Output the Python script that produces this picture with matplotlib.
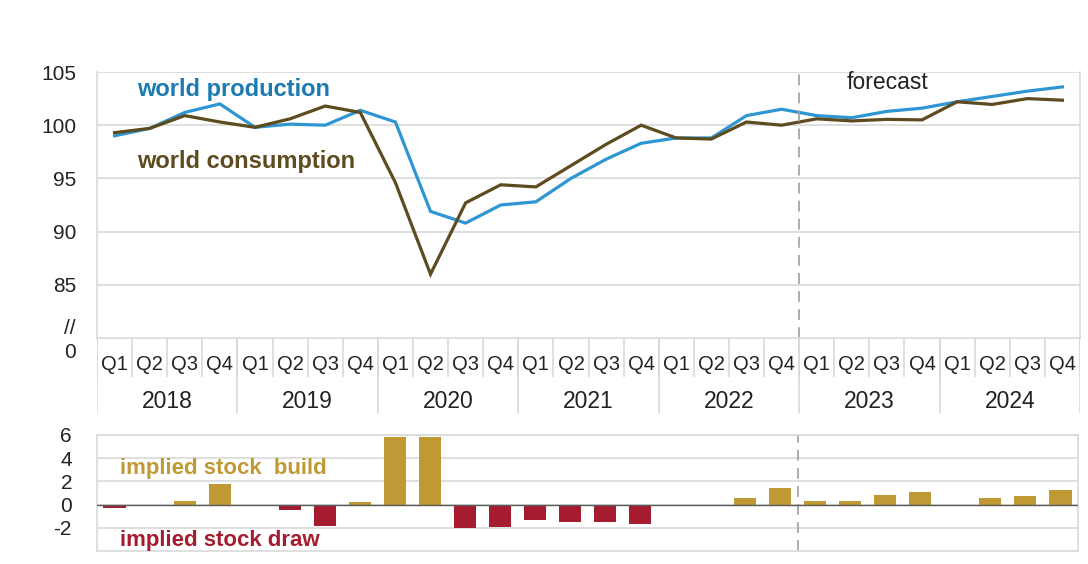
import numpy as np
import matplotlib.pyplot as plt

plt.rcParams['font.family'] = ['Liberation Sans', 'DejaVu Sans']

# data
years = ['2018', '2019', '2020', '2021', '2022', '2023', '2024']
quarters = ['Q1', 'Q2', 'Q3', 'Q4']
production = [99.0, 99.7, 101.2, 102.0, 99.8, 100.1, 100.0, 101.4,
              100.3, 91.9, 90.8, 92.5, 92.8, 95.0, 96.8, 98.3,
              98.8, 98.8, 100.9, 101.5, 100.9, 100.7, 101.3, 101.6,
              102.2, 102.7, 103.2, 103.6]
consumption = [99.3, 99.7, 100.9, 100.3, 99.8, 100.6, 101.8, 101.2,
               94.6, 86.0, 92.7, 94.4, 94.2, 96.2, 98.2, 100.0,
               98.8, 98.7, 100.3, 100.0, 100.6, 100.4, 100.55, 100.5,
               102.2, 101.95, 102.5, 102.35]
stock_change = [-0.25, -0.05, 0.3, 1.75, 0.0, -0.5, -1.85, 0.25,
                5.8, 5.85, -2.0, -1.9, -1.35, -1.5, -1.5, -1.7,
                0.0, 0.0, 0.6, 1.45, 0.3, 0.3, 0.8, 1.05,
                -0.15, 0.6, 0.7, 1.25]
forecast_start = 19.5

blue = '#2E96D3'
brown = '#5E4B1F'
gold = '#BF9A34'
red = '#A51C30'
grid = '#D9D9D9'

W, H = 1088, 564
fig = plt.figure(figsize=(W / 100, H / 100), dpi=100)


def box(l, t, r, b):
    return [l / W, 1 - b / H, (r - l) / W, (b - t) / H]


n = len(production)
x = np.arange(n)

# top chart
ax = fig.add_axes(box(97, 72, 1080, 338))
ax.plot(x, production, color=blue, lw=2.3, solid_joinstyle='miter')
ax.plot(x, consumption, color=brown, lw=2.3, solid_joinstyle='miter')
ax.set_xlim(-0.5, n - 0.5)
ax.set_ylim(80, 105)
ax.set_yticks([85, 90, 95, 100, 105])
ax.yaxis.grid(True, color=grid, lw=1.2)
ax.set_axisbelow(True)
ax.set_xticks([])
ax.tick_params(axis='y', length=0, pad=15, labelsize=15, colors='#222222')
for s in ax.spines.values():
    s.set_color(grid)
    s.set_linewidth(1.2)
ax.spines['top'].set_visible(False)
ax.axvline(forecast_start, color='#A6A6A6', lw=1.3, ls=(0, (6, 4)))
ax.text(0.64, 103.4, 'world production', color='#1B7AB0', fontsize=17,
        fontweight='bold', va='center')
ax.text(0.64, 96.6, 'world consumption', color=brown, fontsize=17,
        fontweight='bold', va='center')
ax.text(20.84, 104.0, 'forecast', color='#222222', fontsize=16.5, va='center')
fig.text(76 / W, 1 - 328 / H, '//', ha='right', va='center', fontsize=15,
         color='#222222')
fig.text(76 / W, 1 - 353 / H, '0', ha='right', va='center', fontsize=15,
         color='#222222')

# category table under the top chart
cax = fig.add_axes(box(97, 338, 1080, 413))
cax.set_xlim(-0.5, n - 0.5)
cax.set_ylim(0, 1)
cax.axis('off')
cax.vlines(np.arange(n + 1) - 0.5, 0.48, 1, color=grid, lw=1.2)
cax.vlines(np.arange(0, n + 1, 4) - 0.5, 0, 1, color=grid, lw=1.2)
for i in range(n):
    cax.text(i, 0.64, quarters[i % 4], ha='center', va='center',
             fontsize=14.5, color='#222222')
for j, yr in enumerate(years):
    cax.text(4 * j + 1.5, 0.147, yr, ha='center', va='center',
             fontsize=16.5, color='#222222')

# bottom chart
bx = fig.add_axes(box(97, 435, 1078, 551))
colors = [gold if v >= 0 else red for v in stock_change]
bx.bar(x, stock_change, width=0.63, color=colors, zorder=2)
bx.set_xlim(-0.5, n - 0.5)
bx.set_ylim(-4, 6)
bx.set_yticks([-2, 0, 2, 4, 6])
bx.set_yticklabels(['-2', '0', '2', '4', '6'])
bx.yaxis.grid(True, color=grid, lw=1.2)
bx.set_axisbelow(True)
bx.set_xticks([])
bx.tick_params(axis='y', length=0, pad=18, labelsize=15, colors='#222222')
for s in bx.spines.values():
    s.set_color(grid)
    s.set_linewidth(1.2)
bx.axhline(0, color='#595959', lw=1, zorder=3)
bx.axvline(forecast_start, color='#A6A6A6', lw=1.3, ls=(0, (6, 4)), zorder=1)
bx.text(0.155, 3.1, 'implied stock  build', color=gold, fontsize=16,
        fontweight='bold', va='center')
bx.text(0.155, -3.1, 'implied stock draw', color=red, fontsize=16,
        fontweight='bold', va='center')

fig.savefig('out.png', dpi=100)
